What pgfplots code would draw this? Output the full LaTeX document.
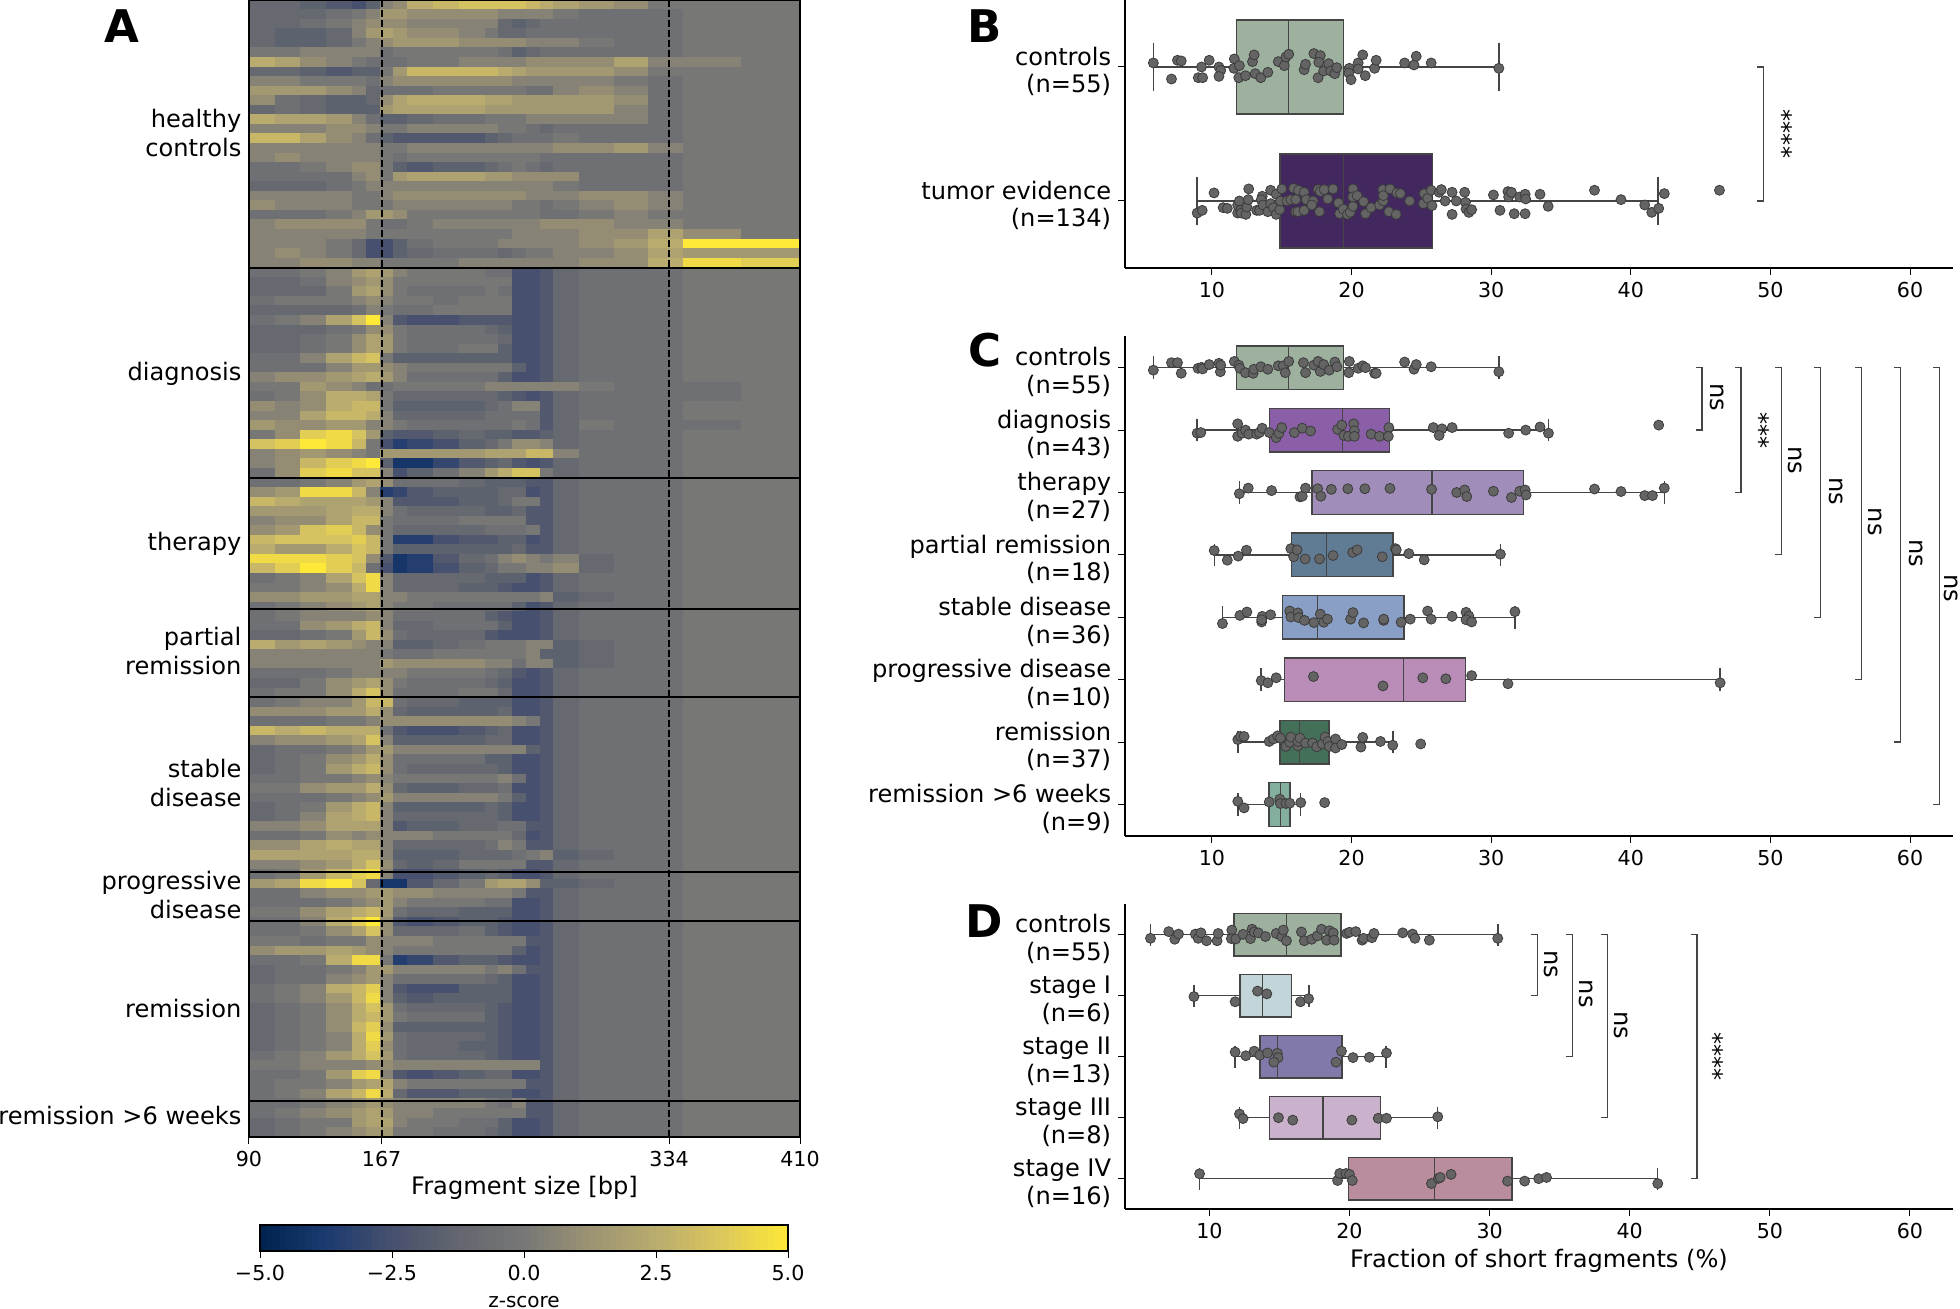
\documentclass[border=0pt]{standalone}
\usepackage{fontspec}
\setmainfont{DejaVu Sans}
\usepackage{pgfplots}
\usepackage{pgfplotstable}
\pgfplotsset{compat=1.18}
\usepgfplotslibrary{statistics}

\definecolor{boxline}{HTML}{454545}
\definecolor{ptfill}{HTML}{646464}
\definecolor{ptedge}{HTML}{3C3C3C}
\definecolor{cctrl}{HTML}{9DB19E}
\definecolor{ctumor}{HTML}{432860}
\definecolor{cdiag}{HTML}{8A5FA8}
\definecolor{cther}{HTML}{A08DB9}
\definecolor{cpart}{HTML}{607C95}
\definecolor{cstab}{HTML}{8A9FC6}
\definecolor{cprog}{HTML}{BA8CB8}
\definecolor{crem}{HTML}{44705A}
\definecolor{crems}{HTML}{84AF9D}
\definecolor{csa}{HTML}{C2D6DA}
\definecolor{csb}{HTML}{8179AA}
\definecolor{csc}{HTML}{CBB2CC}
\definecolor{csd}{HTML}{B98D9D}

\newcommand{\lab}{\fontsize{12.05}{14.5}\selectfont}
\newcommand{\labb}{\fontsize{12.05}{13.8}\selectfont}
\newcommand{\tic}{\fontsize{10.3}{12}\selectfont}

\pgfdeclareplotmark{cw15}{\pgfpathrectangle{\pgfpoint{-6.6pt}{-2.55pt}}{\pgfpoint{13.2pt}{5.1pt}}\pgfusepathqfill}
\pgfdeclareplotmark{cw8}{\pgfpathrectangle{\pgfpoint{-3.6pt}{-2.55pt}}{\pgfpoint{7.2pt}{5.1pt}}\pgfusepathqfill}
\pgfdeclareplotmark{cw20}{\pgfpathrectangle{\pgfpoint{-8.8pt}{-2.55pt}}{\pgfpoint{17.6pt}{5.1pt}}\pgfusepathqfill}
\pgfdeclareplotmark{cw34}{\pgfpathrectangle{\pgfpoint{-14.8pt}{-2.55pt}}{\pgfpoint{29.6pt}{5.1pt}}\pgfusepathqfill}
\pgfdeclareplotmark{cbar}{\pgfpathrectangle{\pgfpoint{-1.75pt}{-6.5pt}}{\pgfpoint{3.5pt}{13pt}}\pgfusepathqfill}

\pgfplotsset{
  colormap={civ}{rgb255=(0,34,78) rgb255=(27,58,111) rgb255=(71,80,110) rgb255=(99,102,111)
    rgb255=(119,119,118) rgb255=(156,147,115) rgb255=(185,172,110) rgb255=(220,200,92) rgb255=(254,232,56)},
  colormap name=civ,
  panel/.style={
    scale only axis, anchor=south west, clip=false,
    axis x line*=bottom, axis y line*=left,
    axis line style={line width=.8pt,-},
    tick style={black,line width=.5pt},
    major tick length=3.5pt, tick align=outside,
    xmin=3.77, xmax=63.08,
    xtick={10,20,30,40,50,60},
    xticklabels={10,20,30,40,50,60},
    y dir=reverse,
    xticklabel style={font=\tic},
    yticklabel style={font=\labb,align=right,inner sep=2pt,xshift=-1.25pt,yshift=-2.2pt},
  },
  pt/.style={only marks,mark=*,mark size=2.5pt,mark options={fill=ptfill,draw=ptedge,line width=.4pt}},
  brk/.style={color=boxline,line width=.6pt,mark=none},
}

% value at fragment-size columns, unit is half a z-score, one line per pair of samples
\pgfplotstableread{
c1 c2 c3 c4 c5 c6 c7 c8 c9 c10 c11 c12 c13 c14 c15 c16 c17 c18 c19 c20 c21 c22
-2 -2 -3 -4 -5 -3 1 2 5 6 7 7 7 7 6 5 4 3 2 0 0 0
-2 -2 -2 -1 0 1 3 3 2 2 2 2 1 1 1 1 0 -1 -1 -1 0 0
-2 -2 -1 0 1 2 2 2 1 1 1 1 -2 -3 -2 -1 -1 -1 -1 -1 0 0
-2 -3 -3 -2 1 3 4 3 2 2 1 0 -2 -2 -1 -1 -1 -1 -1 -1 0 0
-2 -3 -3 -2 0 1 2 3 3 3 2 2 2 2 1 1 1 0 -1 -1 0 0
0 0 1 1 1 1 -1 0 0 0 0 0 -1 -3 -2 -1 -1 -1 -1 -1 0 0
5 4 2 1 0 -1 -1 -1 0 0 1 1 1 1 2 2 2 2 4 1 1 0
-2 -2 -3 -4 -3 -3 0 3 6 6 6 6 5 4 3 3 3 3 2 0 0 0
1 1 0 0 0 -1 1 2 2 2 2 2 2 1 1 1 1 1 0 -1 0 0
3 3 3 2 1 -2 -1 -1 -1 0 0 0 0 0 -1 -1 1 2 1 -1 0 0
2 -1 -2 -3 -3 -2 2 4 5 5 5 4 4 3 3 3 3 3 2 -1 0 0
-2 -1 -2 -3 -3 -3 3 4 4 4 4 3 3 3 3 3 3 3 1 -1 0 0
5 4 4 3 1 -1 -3 -3 -2 -1 -1 0 0 0 1 1 1 1 1 -1 0 0
1 1 1 2 2 1 0 0 1 1 1 1 0 0 -1 -2 -1 -1 -1 -1 0 0
6 6 4 2 1 -1 -3 -4 -4 -4 -4 -3 -2 -1 -1 -1 0 -1 -1 -1 0 0
1 1 1 1 1 1 0 0 1 1 1 1 1 1 1 1 2 2 3 1 0 0
1 2 1 1 1 1 0 -1 0 0 0 0 0 0 0 -1 -1 -1 -1 -1 0 0
-1 -1 0 1 2 2 0 -3 -4 -3 -3 -2 -1 0 -1 -2 -1 -1 -1 -1 0 0
-1 -1 -1 -1 1 2 0 3 4 4 4 3 3 2 2 2 2 -1 -1 -1 0 0
-2 -2 -2 -1 0 1 1 1 1 1 1 1 1 1 1 1 0 -1 -1 -1 0 0
1 1 1 1 0 0 1 2 2 2 2 2 2 2 1 1 1 2 2 1 0 0
2 1 1 1 0 0 0 1 1 1 1 1 1 0 0 -1 0 1 2 1 0 0
-1 -1 -1 0 1 3 3 2 0 0 0 0 0 0 0 -1 -1 0 1 0 0 0
1 2 2 2 2 0 -1 -1 0 1 1 1 1 1 1 2 2 2 1 1 0 0
1 1 1 1 1 0 0 0 0 0 0 0 0 1 1 1 1 2 2 4 2 0
1 1 1 0 -2 -5 -5 -3 -1 0 0 0 1 1 1 1 1 2 3 5 10 10
1 2 1 0 -2 -5 -5 -3 -2 -1 -1 -1 -2 -1 0 0 1 1 2 4 3 3
1 1 2 2 1 1 0 0 0 0 1 1 1 1 1 1 1 2 2 5 9 8
-1 -1 0 1 3 4 3 1 0 0 0 -1 -1 -5 -5 -4 -2 -1 -1 -1 0 0
-2 -2 -1 1 2 3 2 0 0 0 0 0 0 -5 -5 -4 -2 -1 -1 -1 0 0
-2 -2 -2 0 3 4 2 0 -1 -1 -1 0 -1 -5 -5 -4 -2 -1 -1 -1 0 0
-1 0 0 0 1 2 1 0 0 -1 0 0 0 -5 -5 -4 -2 -1 -1 -1 0 0
-2 -2 -2 -2 -1 1 0 -1 -1 0 0 0 0 -5 -5 -4 -2 -1 -1 -1 0 0
-1 0 1 4 7 10 1 -4 -5 -5 -4 -4 -4 -5 -5 -4 -2 -1 -1 -1 0 0
-2 -2 -2 -1 0 2 2 0 -1 -1 -1 -2 -3 -5 -5 -4 -2 -1 -1 -1 0 0
-2 -2 -1 0 2 4 3 0 -1 -1 -1 -1 -2 -5 -5 -4 -2 -1 -1 -1 0 0
-2 -2 -1 0 2 4 3 0 -1 -1 0 0 -3 -5 -5 -4 -2 -1 -1 -1 0 0
-1 -1 1 4 6 7 0 -3 -3 -3 -3 -3 -3 -5 -5 -4 -2 -1 -1 -1 0 0
-1 -1 -1 1 3 3 2 1 0 0 0 0 0 -3 -5 -4 -2 -1 -1 -1 0 0
1 2 2 3 4 5 3 1 -1 -1 -1 -1 -3 -5 -5 -4 -2 -1 -1 -1 0 0
0 0 3 2 1 -1 -1 0 0 0 0 1 1 1 1 1 1 0 -1 -1 -1 0
-1 0 2 5 5 4 0 -2 -2 -2 -2 -2 -3 -4 -5 -4 -2 -1 -1 -1 -1 0
2 1 2 5 6 6 0 -3 -3 -3 -3 -2 -1 1 1 -4 -2 -1 -1 -1 0 0
1 1 4 6 6 5 1 -2 -2 -2 -2 -1 -1 -1 -1 -4 -2 -1 -1 -1 0 0
3 2 2 3 3 1 1 0 -1 -1 -1 -1 -1 0 -1 -4 -2 0 -1 -1 -1 0
0 2 8 9 7 3 -3 -4 -4 -3 -2 -3 -3 -4 -4 -3 -2 -1 -1 -1 0 0
7 8 10 9 6 0 -5 -7 -6 -5 -3 -2 0 2 2 1 -2 -1 -1 -1 0 0
1 2 3 2 1 0 3 3 3 3 3 4 4 4 6 6 1 -1 -1 -1 0 0
1 2 6 8 9 10 -3 -8 -8 -6 -4 -3 -2 -4 -5 -4 -2 -1 -1 -1 0 0
-1 2 8 9 7 7 1 -5 -3 -1 1 3 5 7 7 0 -2 -1 -1 -1 0 0
-1 -1 0 1 3 4 2 -1 -1 -1 -2 -3 -3 -3 -4 -4 -2 -1 -1 -1 0 0
2 3 9 9 6 1 -7 -6 -4 -3 -3 -3 -2 -2 -5 -4 -2 -1 -1 -1 0 0
6 5 4 4 4 3 1 -4 -4 -4 -3 -3 -2 0 0 -4 -2 -1 -1 -1 0 0
3 3 3 4 5 5 1 -1 -2 -2 -2 -3 -3 -2 -4 -4 -2 -1 -1 -1 0 0
1 2 2 4 6 6 0 -1 -1 -1 0 0 0 0 -4 -4 -2 -1 -1 -1 0 0
2 3 7 8 6 2 0 -2 -2 -2 -2 -1 -1 -1 0 -4 -2 -1 -1 -1 0 0
6 7 7 7 8 6 0 -7 -7 -5 -4 -4 -3 -3 -5 -4 -2 -1 -1 -1 0 0
5 3 3 5 7 6 0 -3 -3 -3 -3 -3 -3 -2 -4 -4 -2 -1 -1 -1 0 0
9 9 9 8 7 2 -4 -8 -7 -4 -2 -1 1 2 1 0 1 -2 -1 -1 0 0
6 8 10 8 6 -1 -5 -8 -7 -5 -3 -2 0 0 1 1 2 -2 -1 -1 0 0
-1 0 1 4 7 9 1 -2 -2 -2 -2 -3 -3 -3 -5 -4 -2 -1 -1 -1 0 0
0 0 1 2 5 9 1 -2 -2 -2 -3 -3 -4 -5 -5 -4 -2 -1 -1 -1 0 0
2 2 3 3 4 4 1 1 0 0 0 0 0 0 0 1 -3 -2 -1 -1 0 0
-1 0 1 2 3 4 1 0 0 -1 -1 -1 -1 -3 -5 -4 -2 -1 -1 -1 0 0
-1 0 1 1 1 2 1 -1 -1 -1 -1 -3 -4 -5 -5 -4 -2 -1 -1 -1 0 0
-1 -1 2 3 5 6 1 -2 -2 -1 -1 -1 -3 -5 -5 -4 -2 -1 -1 -1 0 0
-2 -2 -1 0 3 6 2 -1 -2 -2 -2 -4 -5 -5 -5 -4 -2 -1 -1 -1 0 0
5 3 4 3 2 1 1 -3 -3 -2 -1 0 0 0 1 1 -3 -2 -1 -1 0 0
1 1 1 1 1 1 0 -1 -1 0 0 0 0 0 1 -3 -3 -2 -1 -1 0 0
1 1 1 1 1 1 3 2 2 2 2 1 1 -1 1 1 -3 -2 -1 -1 0 0
-1 -1 -1 0 1 1 1 1 0 0 0 -1 -2 -4 -5 -4 -2 -1 -1 -1 0 0
-2 -2 0 2 3 4 2 0 -1 -1 -1 -2 -3 -5 -5 -4 -2 -1 -1 -1 0 0
-1 0 0 2 5 7 2 -1 -1 -1 0 0 -2 -5 -5 -4 -2 -1 -1 -1 0 0
-1 0 1 1 3 6 6 -1 -2 -2 -3 -3 -3 -5 -5 -4 -2 -1 -1 -1 0 0
2 2 2 3 3 5 2 -2 -3 -3 -3 -3 -2 -5 -5 -4 -2 -1 -1 -1 0 0
-1 -1 -1 0 0 1 2 2 2 2 2 2 2 1 0 -4 -2 -1 -1 -1 0 0
6 5 6 5 5 5 -1 -4 -5 -5 -4 -3 -2 -5 -5 -4 -2 -1 -1 -1 0 0
1 2 2 3 4 7 1 -3 -3 -3 -3 -2 -2 -5 -5 -4 -2 -1 -1 -1 0 0
-2 -1 -1 0 1 3 3 1 1 1 1 1 1 1 -3 -4 -2 -1 -1 -1 0 0
-2 -1 0 2 3 5 2 -1 -1 -1 -1 -3 -3 -5 -5 -4 -2 -1 -1 -1 0 0
-2 -1 0 3 5 6 2 -1 -2 -2 -2 -2 -3 -5 -5 -4 -2 -1 -1 -1 0 0
-1 -1 0 0 1 2 1 0 0 0 0 0 1 -1 -5 -4 -2 -1 -1 -1 0 0
0 0 2 3 3 5 2 -2 -3 -3 -2 -2 -1 -5 -5 -4 -2 -1 -1 -1 0 0
-1 -1 -1 0 1 2 3 1 1 1 1 1 0 -3 -5 -4 -2 -1 -1 -1 0 0
-2 -1 0 3 5 6 1 -3 -3 -3 -3 -2 -3 -5 -5 -4 -2 -1 -1 -1 0 0
-2 -1 1 4 5 6 1 -2 -2 -2 -2 -2 -3 -5 -5 -4 -2 -1 -1 -1 0 0
1 1 2 4 4 4 1 -4 -3 -3 -2 -2 -1 -1 -4 -4 -2 -1 -1 -1 0 0
-1 -1 0 2 1 2 1 1 1 0 0 0 0 -2 -5 -4 -2 -1 -1 -1 0 0
2 2 4 5 4 4 1 -2 -2 -2 -2 -1 1 0 -4 -4 -2 -1 -1 -1 0 0
4 4 4 4 5 5 1 -3 -3 -3 -2 -2 -2 -1 0 1 -3 -2 -1 -1 0 0
1 1 2 3 5 7 2 -2 -3 -2 0 0 0 0 -4 -4 -2 -1 -1 -1 0 0
-1 0 3 6 8 9 1 -5 -5 -4 -3 -2 -3 -5 -5 -4 -2 -1 -1 -1 0 0
3 4 9 10 7 -2 -8 -8 -4 -2 0 3 4 4 2 -3 -3 -2 -1 -1 0 0
-1 -1 1 2 2 3 3 2 2 1 1 1 1 0 -4 -4 -2 -1 -1 -1 0 0
-1 -1 -1 0 1 2 3 1 0 0 0 -1 -1 -5 -5 -4 -2 -1 -1 -1 0 0
0 0 2 4 5 6 3 -1 -2 -2 -3 -3 -3 -5 -5 -4 -2 -1 -1 -1 0 0
-1 -1 1 5 8 10 2 -4 -5 -4 -3 -3 -4 -5 -5 -4 -2 -1 -1 -1 0 0
-1 -1 0 2 4 7 2 -2 -2 -2 -1 -3 -4 -5 -5 -4 -2 -1 -1 -1 0 0
0 0 -1 0 0 2 1 1 1 0 0 0 0 0 -4 -4 -2 -1 -1 -1 0 0
2 3 3 4 3 2 1 0 0 0 0 0 0 -3 -5 -4 -2 -1 -1 -1 0 0
-1 -1 0 5 9 9 0 -7 -6 -4 -3 -3 -4 -5 -5 -4 -2 -1 -1 -1 0 0
-2 -1 -1 0 1 3 3 1 1 1 1 0 1 -1 -4 -4 -2 -1 -1 -1 0 0
-2 -1 -1 1 2 3 1 -1 -1 -1 -1 -2 -3 -5 -5 -4 -2 -1 -1 -1 0 0
-1 0 1 5 6 8 1 -4 -5 -5 -3 -3 -3 -5 -5 -4 -2 -1 -1 -1 0 0
-1 0 1 3 6 9 1 -3 -4 -3 -3 -3 -3 -5 -5 -4 -2 -1 -1 -1 0 0
-2 -1 0 2 5 7 3 -1 -2 -2 -2 -3 -4 -5 -5 -4 -2 -1 -1 -1 0 0
-2 -1 0 2 5 6 3 0 -1 -1 -1 -3 -4 -5 -5 -4 -2 -1 -1 -1 0 0
-2 -1 0 2 6 8 2 -3 -3 -3 -3 -3 -4 -5 -5 -4 -2 -1 -1 -1 0 0
-2 -1 0 1 5 9 3 -1 -2 -2 -2 -3 -4 -5 -5 -4 -2 -1 -1 -1 0 0
-2 -1 0 1 5 8 2 -1 -2 -2 -3 -3 -4 -5 -5 -4 -2 -1 -1 -1 0 0
-1 0 1 3 5 7 3 -1 -2 -2 -2 -3 -4 -5 -5 -4 -2 -1 -1 -1 0 0
0 0 1 1 1 2 2 1 1 1 1 1 1 1 1 -4 -2 -1 -1 -1 0 0
-1 -1 0 3 8 9 1 -4 -5 -4 -3 -2 -2 -5 -5 -4 -2 -1 -1 -1 0 0
-1 0 0 1 3 4 4 1 0 0 0 0 0 0 -4 -4 -2 -1 -1 -1 0 0
-1 0 1 4 6 9 5 -2 -4 -4 -3 -3 -3 -5 -5 -4 -2 -1 -1 -1 0 0
-1 -1 0 1 2 3 2 1 1 1 1 0 -1 1 -4 -4 -2 -1 -1 -1 0 0
-1 0 1 2 3 4 3 1 1 0 0 0 0 0 -4 -4 -2 -1 -1 -1 0 0
-2 -1 0 0 3 4 4 1 0 0 -1 -1 -3 -5 -5 -4 -2 -1 -1 -1 0 0
-2 -1 0 1 2 3 3 0 0 -1 -1 -2 -3 -5 -5 -4 -2 -1 -1 -1 0 0
}\heat

\newcommand{\cellcol}[3]{\addplot[scatter,only marks,mark=#3,point meta=\thisrow{#1},
  scatter/use mapped color={draw=mapped color,fill=mapped color}]
  table[x expr=#2,y expr=\coordindex+0.5]{\heat};}
\newcommand{\grp}[1]{\addplot[black,line width=.9pt] coordinates {(90,#1)(410,#1)};}
\newcommand{\bx}[7]{\addplot[boxplot prepared={draw position=#1,lower whisker=#3,lower quartile=#4,
  median=#5,upper quartile=#6,upper whisker=#7,box extend=0.7,whisker extend=0.36},
  fill=#2,draw=boxline,line width=.7pt] coordinates {};}
\newcommand{\pts}[2]{\addplot[pt] table[row sep=\\,header=false,x index=0,y expr=#1+\thisrowno{1}]{#2};}
\newcommand{\brk}[3]{\addplot[brk] coordinates {(#1-0.45,#2)(#1,#2)(#1,#3)(#1-0.45,#3)};}
\newcommand{\sig}[3]{\node[rotate=-90,font=\lab] at (axis cs:#1,#2) {#3};}

\begin{document}
\begin{tikzpicture}[x=1pt,y=1pt]
\path[use as bounding box] (0,0) rectangle (980,654.5);

% A: heatmap cells, labels
\begin{axis}[
  at={(124.5pt,86pt)}, anchor=south west, scale only axis,
  width=275.5pt, height=568.5pt,
  xmin=90, xmax=410, ymin=0, ymax=119, y dir=reverse,
  point meta min=-10, point meta max=10,
  xtick={90,167,334,410}, xticklabels={90,167,334,410},
  ytick={13.9,39.1,56.9,68.1,81.9,93.7,105.6,116.8},
  yticklabels={{healthy\\controls},diagnosis,therapy,{partial\\remission},{stable\\disease},{progressive\\disease},remission,{remission >6 weeks}},
  yticklabel style={font=\lab,align=right,inner sep=2pt,xshift=1.9pt},
  xticklabel style={font=\tic},
  tick style={black,line width=.5pt}, tick align=outside,
  ytick style={draw=none},
  xtick pos=bottom, ytick pos=left,
  major tick length=3.5pt,
  axis line style={line width=.8pt},
  xlabel={Fragment size [bp]},
  xlabel style={font=\lab,yshift=2pt},
]
\cellcol{c1}{97.5}{cw15}
\cellcol{c2}{112.5}{cw15}
\cellcol{c3}{127.5}{cw15}
\cellcol{c4}{142.5}{cw15}
\cellcol{c5}{154}{cw8}
\cellcol{c6}{162}{cw8}
\cellcol{c7}{170}{cw8}
\cellcol{c8}{178}{cw8}
\cellcol{c9}{189.5}{cw15}
\cellcol{c10}{204.5}{cw15}
\cellcol{c11}{219.5}{cw15}
\cellcol{c12}{231}{cw8}
\cellcol{c13}{239}{cw8}
\cellcol{c14}{247}{cw8}
\cellcol{c15}{255}{cw8}
\cellcol{c16}{263}{cw8}
\cellcol{c17}{274.5}{cw15}
\cellcol{c18}{292}{cw20}
\cellcol{c19}{312}{cw20}
\cellcol{c20}{332}{cw20}
\cellcol{c21}{359}{cw34}
\cellcol{c22}{393}{cw34}
\end{axis}

% A: group separators and 167/334 guides sit over the cells
\begin{axis}[
  at={(124.5pt,86pt)}, anchor=south west, scale only axis,
  width=275.5pt, height=568.5pt,
  xmin=90, xmax=410, ymin=0, ymax=119, y dir=reverse,
  xtick=\empty, ytick=\empty,
  axis line style={line width=.8pt},
]
\grp{28.05}\grp{50.03}\grp{63.74}\grp{72.95}\grp{91.26}\grp{96.4}\grp{115.2}
\addplot[black,line width=1pt,dash pattern=on 3.5pt off 1.5pt] coordinates {(167,0)(167,119)};
\addplot[black,line width=1pt,dash pattern=on 3.5pt off 1.5pt] coordinates {(334,0)(334,119)};
\end{axis}

% colour bar
\begin{axis}[
  at={(130pt,29pt)}, anchor=south west, scale only axis,
  width=264pt, height=13pt,
  xmin=-5, xmax=5, ymin=0, ymax=1,
  point meta min=-5, point meta max=5,
  xtick={-5,-2.5,0,2.5,5}, xticklabels={−5.0,−2.5,0.0,2.5,5.0},
  ytick=\empty, xtick pos=bottom,
  xticklabel style={font=\tic},
  tick style={black,line width=.5pt}, tick align=outside,
  major tick length=3.5pt,
  axis line style={line width=.8pt},
  xlabel={z-score}, xlabel style={font=\fontsize{10}{11}\selectfont,yshift=-1pt},
]
\addplot[scatter,only marks,mark=cbar,point meta=x,
  scatter/use mapped color={draw=mapped color,fill=mapped color}]
  table[row sep=\\,header=false,x index=0,y expr=0.5]{-4.94\\-4.81\\-4.69\\-4.56\\-4.44\\-4.31\\-4.19\\-4.06\\-3.94\\-3.81\\-3.69\\-3.56\\-3.44\\-3.31\\-3.19\\-3.06\\-2.94\\-2.81\\-2.69\\-2.56\\-2.44\\-2.31\\-2.19\\-2.06\\-1.94\\-1.81\\-1.69\\-1.56\\-1.44\\-1.31\\-1.19\\-1.06\\-.94\\-.81\\-.69\\-.56\\-.44\\-.31\\-.19\\-.06\\.06\\.19\\.31\\.44\\.56\\.69\\.81\\.94\\1.06\\1.19\\1.31\\1.44\\1.56\\1.69\\1.81\\1.94\\2.06\\2.19\\2.31\\2.44\\2.56\\2.69\\2.81\\2.94\\3.06\\3.19\\3.31\\3.44\\3.56\\3.69\\3.81\\3.94\\4.06\\4.19\\4.31\\4.44\\4.56\\4.69\\4.81\\4.94\\};
\end{axis}
\begin{axis}[
  at={(130pt,29pt)}, anchor=south west, scale only axis,
  width=264pt, height=13pt,
  xmin=-5, xmax=5, ymin=0, ymax=1,
  xtick=\empty, ytick=\empty,
  axis line style={line width=.8pt},
]
\end{axis}

% B
\begin{axis}[panel,at={(562.5pt,520.5pt)},width=414pt,height=134pt,
  ymin=-0.5,ymax=1.5,ytick={0,1},
  yticklabels={{controls\\(n=55)},{tumor evidence\\(n=134)}}]
\bx{0}{cctrl}{5.8}{11.76}{15.5}{19.4}{30.55}
\bx{1}{ctumor}{8.94}{14.87}{19.4}{25.8}{41.96}
\pts{0}{5.8 -.03\\7.53 -.05\\7.8 -.045\\7.1 .09\\9.02 .08\\9.33 .08\\9.25 0\\9.8 -.05\\10.5 0\\10.63 .025\\10.5 .07\\11.6 -.06\\11.57 .01\\11.96 -.01\\11.92 .08\\12.4 .065\\12.9 -.04\\13.02 -.09\\13.1 .05\\13.5 .08\\14 .04\\14.75 -.04\\15.18 -.01\\15.3 -.075\\15.5 -.095\\16.6 .02\\16.7 -.02\\17.3 -.1\\17.76 -.085\\17.65 -.035\\17.6 .08\\18 .03\\18.35 -.025\\18.5 .03\\18.8 .05\\18.94 .005\\19.84 .01\\19.8 .045\\19.96 .095\\20.47 -.03\\20.47 .015\\20.8 -.09\\20.98 .065\\21.65 .01\\21.76 -.05\\23.8 -.03\\24.47 -.015\\24.63 -.08\\25.7 -.03\\30.55 .01\\}
\pts{1}{8.94 .09\\9.3 .07\\10.15 -.06\\10.8 .05\\11.1 .055\\11.84 .09\\11.84 .03\\11.96 0\\12.04 .07\\12.1 .09\\12.43 .1\\12.5 .045\\12.63 -.09\\12.6 -.01\\13.2 .07\\13.4 .07\\13.6 -.035\\13.53 -.01\\13.65 .03\\14 .08\\14.2 -.08\\14.2 .02\\14.4 .05\\14.6 -.05\\14.6 .1\\14.86 .065\\15 -.09\\14.9 0\\15.37 0\\15.65 -.01\\15.84 -.095\\16 -.01\\16 .08\\16.15 .08\\16.2 -.08\\16.6 -.065\\16.6 .07\\16.75 -.01\\17.25 0\\17.15 .03\\17.6 -.085\\17.76 -.07\\18.04 -.085\\17.7 .08\\18.3 -.015\\18.67 -.09\\19.06 .015\\19.14 .095\\19.4 .06\\19.7 .1\\19.9 .085\\20.1 -.09\\20.08 -.03\\20.1 .04\\20.4 -.04\\20.86 .005\\21 .095\\21.4 .05\\22 .03\\22.24 -.085\\22.27 0\\22.27 -.04\\22.75 -.09\\22.67 .08\\23.2 .1\\23.25 -.06\\23.5 -.055\\24.16 0\\25.2 -.055\\25.14 .02\\25.45 -.02\\25.7 -.08\\25.76 .035\\26.27 -.065\\26.43 -.085\\26.7 0\\27.2 -.065\\27.2 .1\\27.5 0\\28.1 -.065\\28.16 .01\\28.2 .06\\28.4 .085\\28.6 .065\\30.16 -.045\\30.63 .07\\31.2 -.07\\31.25 -.03\\31.45 -.065\\31.65 .095\\32.04 -.03\\32.43 -.05\\32.47 -.015\\32.43 .095\\33.5 -.05\\34.08 .04\\37.4 -.08\\39.3 -.01\\41 .03\\41.5 .085\\42 .055\\42.4 -.055\\46.35 -.08\\}
\brk{49.5}{0}{1}
\sig{50.9}{0.5}{****}
\end{axis}

% C
\begin{axis}[panel,at={(562.5pt,236.5pt)},width=414pt,height=250pt,
  ymin=-0.508,ymax=7.505,ytick={0,1,2,3,4,5,6,7},
  yticklabels={{controls\\(n=55)},{diagnosis\\(n=43)},{therapy\\(n=27)},{partial remission\\(n=18)},{stable disease\\(n=36)},{progressive disease\\(n=10)},{remission\\(n=37)},{remission >6 weeks\\(n=9)}}]
\bx{0}{cctrl}{5.8}{11.76}{15.5}{19.4}{30.55}
\bx{1}{cdiag}{8.94}{14.1}{19.35}{22.7}{34.1}
\bx{2}{cther}{11.96}{17.15}{25.75}{32.3}{42.4}
\bx{3}{cpart}{10.16}{15.7}{18.2}{22.96}{30.66}
\bx{4}{cstab}{10.75}{15.07}{17.54}{23.75}{31.7}
\bx{5}{cprog}{13.5}{15.2}{23.7}{28.15}{46.4}
\bx{6}{crem}{11.85}{14.86}{16.25}{18.37}{22.96}
\bx{7}{crems}{11.85}{14.08}{14.9}{15.6}{16.36}
\pts{0}{5.8 .04\\7.1 -.08\\7.53 -.08\\7.8 .09\\9 .01\\9.25 -.005\\9.33 .02\\9.8 -.05\\10.5 -.07\\10.6 .065\\10.63 -.04\\11.6 -.1\\11.92 -.04\\12 .01\\12.4 .08\\12.95 .09\\13 .025\\13.5 -.015\\14 .025\\14.75 -.03\\15.1 -.03\\15.25 .08\\15.5 -.1\\16.55 -.08\\16.7 .08\\17.3 -.04\\17.6 -.1\\17.76 .06\\18 -.05\\18.4 .04\\18.8 -.09\\18.95 -.015\\19.84 -.1\\19.8 .08\\20.47 .01\\20.8 -.03\\21 0\\21.65 .09\\21.76 .09\\23.8 -.09\\24.47 .025\\24.63 -.05\\25.7 -.015\\30.55 .065\\}
\pts{1}{8.94 .05\\9.2 .04\\11.84 -.1\\11.84 .1\\12.16 .05\\12.4 0\\12.63 .065\\13.2 .065\\13.4 .04\\13.6 -.03\\14.1 .04\\14.6 .12\\14.8 .05\\15 -.04\\15.9 .04\\16.47 -.03\\17.06 .015\\19 -.01\\19.3 -.08\\19.45 .085\\19.77 .1\\20.15 -.1\\20.2 .01\\20.2 .1\\21.4 .065\\22 .1\\22.67 -.04\\22.63 .1\\25.85 -.04\\26.47 -.02\\26.27 .085\\27.2 -.04\\31.25 .05\\32.47 0\\33.5 -.05\\34.1 .05\\42 -.08\\}
\pts{2}{11.96 .02\\12.6 -.07\\14.27 -.03\\16.3 .07\\16.47 .06\\16.7 -.07\\17.57 -.06\\17.8 .06\\18.55 -.05\\19.73 -.06\\20.95 -.06\\22.75 -.065\\25.73 -.05\\27.53 0\\28.1 -.04\\28.25 .065\\30.16 -.02\\31.45 .08\\32.04 -.02\\32.43 -.04\\32.5 .04\\37.4 -.055\\39.3 -.015\\41 .05\\41.55 .05\\42.4 -.07\\}
\pts{3}{10.16 -.07\\11.1 .085\\11.88 .02\\12.47 -.075\\15.65 -.1\\15.85 .03\\16.1 -.08\\16.67 .065\\17.7 .065\\18.67 .01\\20.08 -.04\\20.4 -.08\\22.2 .03\\23.14 -.1\\23.2 -.08\\24.1 -.02\\25.2 .08\\30.66 -.01\\}
\pts{4}{10.75 .1\\12 -.03\\12.5 -.085\\13.56 .075\\13.6 -.015\\13.56 .04\\14.2 -.04\\15.57 -.1\\15.65 -.005\\16.15 -.07\\16.2 .005\\16.63 .05\\17.3 .085\\17.76 -.05\\18 .08\\18.27 .03\\19.93 .03\\20.1 -.075\\20.86 .09\\22.3 .05\\22.3 .03\\23.55 .08\\24.2 .03\\25.45 -.1\\25.7 .03\\27.2 -.015\\28.2 -.08\\28.4 -.02\\28.2 .04\\28.6 .075\\31.7 -.09\\}
\pts{5}{13.53 .015\\14 .05\\14.6 -.03\\17.27 -.05\\22.25 .1\\25.1 -.03\\26.75 -.015\\28.6 -.065\\31.2 .065\\46.4 .05\\}
\pts{6}{11.85 -.04\\12.04 -.09\\12.3 -.09\\14.1 -.01\\14.4 -.05\\14.7 -.1\\14.9 -.065\\15.3 .07\\15.57 .005\\15.65 -.08\\16.15 .06\\16.15 -.01\\16.3 -.065\\16.7 .015\\17.2 .015\\17.5 .075\\17.9 .03\\18.1 -.08\\18.3 -.01\\18.4 .07\\18.85 -.05\\18.85 .095\\19.3 .04\\20.67 .08\\20.8 -.075\\22.07 -.01\\22.95 .05\\24.95 .03\\}
\pts{7}{11.85 -.05\\12.3 .055\\14.1 -.04\\14.86 -.085\\14.9 -.015\\15.3 -.015\\15.57 -.02\\16.36 -.03\\18.07 -.03\\}
\brk{45.1}{0}{1}\brk{47.9}{0}{2}\brk{50.8}{0}{3}\brk{53.6}{0}{4}\brk{56.5}{0}{5}\brk{59.3}{0}{6}\brk{62.1}{0}{7}
\sig{46.2}{0.47}{ns}\sig{49.3}{1}{***}\sig{51.8}{1.48}{ns}\sig{54.7}{1.98}{ns}\sig{57.5}{2.47}{ns}\sig{60.4}{2.97}{ns}\sig{62.95}{3.53}{ns}
\end{axis}

% D
\begin{axis}[panel,at={(562.5pt,50pt)},width=414pt,height=152.5pt,
  xmin=3.98,xmax=63.07,
  ymin=-0.503,ymax=4.497,ytick={0,1,2,3,4},
  yticklabels={{controls\\(n=55)},{stage I\\(n=6)},{stage II\\(n=13)},{stage III\\(n=8)},{stage IV\\(n=16)}},
  xlabel={Fraction of short fragments (\%)},
  xlabel style={font=\lab,yshift=1.5pt}]
\bx{0}{cctrl}{5.8}{11.76}{15.5}{19.4}{30.6}
\bx{1}{csa}{8.9}{12.2}{13.8}{15.87}{17.1}
\bx{2}{csb}{11.84}{13.6}{14.85}{19.47}{22.6}
\bx{3}{csc}{12.15}{14.3}{18.1}{22.2}{26.3}
\bx{4}{csd}{9.3}{19.94}{26.08}{31.6}{42}
\pts{0}{5.8 .06\\7.1 -.05\\7.53 .075\\7.8 -.01\\9 -.01\\9.2 .06\\9.4 -.03\\9.8 .1\\10.55 .1\\10.63 -.02\\11.6 -.075\\11.57 .065\\11.88 .07\\12.4 -.005\\12.93 .065\\13.05 -.09\\13.2 -.045\\13.5 -.03\\14 .03\\14.77 -.02\\15.16 .03\\15.28 -.075\\15.5 .1\\16.57 -.045\\16.77 .1\\17.3 .075\\17.7 .02\\18 -.09\\18.37 .09\\18.57 -.065\\18.84 -.03\\18.9 .09\\19.8 -.02\\20 -.04\\20.45 -.05\\20.9 .09\\21 .06\\21.6 .05\\21.75 -.02\\23.8 -.03\\24.5 -.01\\24.67 .06\\25.7 .09\\30.58 .06\\}
\pts{1}{8.9 .015\\11.84 .1\\13.44 -.075\\14.1 -.03\\16.5 .1\\17.08 .05\\}
\pts{2}{11.84 -.075\\12.6 -.015\\13.2 -.09\\13.6 -.025\\14.15 -.06\\14.85 -.055\\14.9 .015\\14.6 .09\\19.43 -.09\\19.04 .09\\20.25 .015\\21.42 .01\\22.64 -.06\\}
\pts{3}{12.15 -.06\\12.4 .015\\14.93 0\\15.95 .04\\20.17 .04\\22.05 .01\\22.64 .01\\26.3 -.015\\}
\pts{4}{9.3 -.08\\19.15 .03\\19.3 -.085\\19.75 -.085\\20 -.07\\20.2 .03\\25.85 .08\\26.35 -.005\\26.47 -.02\\27.25 -.07\\31.28 .04\\32.5 .04\\33.5 0\\34.06 -.02\\42 .08\\}
\brk{33.4}{0}{1}\brk{35.9}{0}{2}\brk{38.4}{0}{3}\brk{44.8}{0}{4}
\sig{34.4}{0.48}{ns}\sig{36.9}{0.97}{ns}\sig{39.4}{1.48}{ns}\sig{46.07}{2}{****}
\end{axis}

\node[font=\fontsize{22.5}{24}\selectfont\bfseries] at (61,641.5) {A};
\node[font=\fontsize{22.5}{24}\selectfont\bfseries] at (492.5,641.5) {B};
\node[font=\fontsize{22.5}{24}\selectfont\bfseries] at (492.5,479.5) {C};
\node[font=\fontsize{22.5}{24}\selectfont\bfseries] at (492,194) {D};
\end{tikzpicture}
\end{document}
